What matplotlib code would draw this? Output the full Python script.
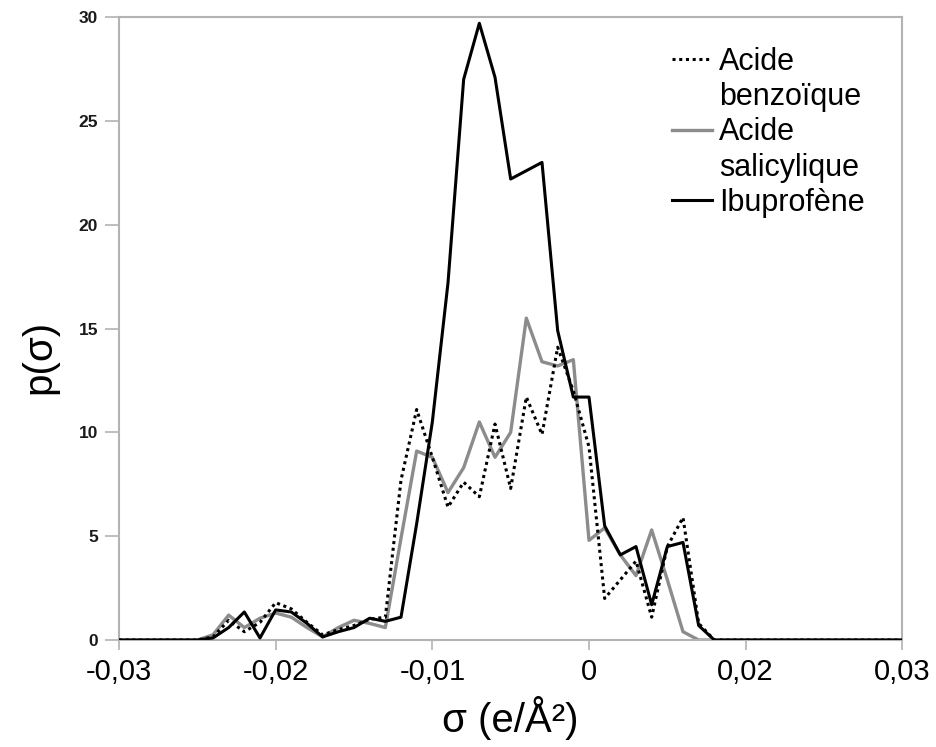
import matplotlib
matplotlib.use("Agg")
import matplotlib.pyplot as plt
from matplotlib.lines import Line2D
import numpy as np

plt.rcParams['font.family'] = ['Liberation Sans', 'DejaVu Sans']

# sigma grid (e/A^2), 51 points
sigma = np.linspace(-0.025, 0.025, 51)

benzoique = [0, 0, 0, 0, 0, 0, 0.15, 0.95, 0.4, 0.85,
             1.8, 1.5, 0.85, 0.25, 0.5, 0.7, 1.0, 1.1, 7.7, 11.1,
             8.8, 6.4, 7.6, 6.9, 10.4, 7.3, 11.7, 9.9, 14.1, 12.0,
             9.3, 2.0, 2.9, 3.8, 1.1, 4.5, 5.9, 0.8, 0, 0,
             0, 0, 0, 0, 0, 0, 0, 0, 0, 0, 0]
salicylique = [0, 0, 0, 0, 0, 0, 0.25, 1.2, 0.6, 1.05,
               1.3, 1.1, 0.6, 0.15, 0.6, 0.95, 0.8, 0.6, 4.9, 9.1,
               8.8, 7.1, 8.3, 10.5, 8.8, 10.0, 15.5, 13.4, 13.2, 13.5,
               4.8, 5.4, 4.1, 3.1, 5.3, 2.9, 0.4, 0, 0, 0,
               0, 0, 0, 0, 0, 0, 0, 0, 0, 0, 0]
ibuprofene = [0, 0, 0, 0, 0, 0, 0.1, 0.6, 1.35, 0.1,
              1.45, 1.35, 0.8, 0.15, 0.4, 0.6, 1.05, 0.9, 1.1, 5.6,
              10.5, 17.2, 27.0, 29.7, 27.1, 22.2, 22.6, 23.0, 14.9, 11.7,
              11.7, 5.5, 4.1, 4.5, 1.7, 4.5, 4.7, 0.7, 0, 0,
              0, 0, 0, 0, 0, 0, 0, 0, 0, 0, 0]

xtick_pos = [-0.025, -0.015, -0.005, 0.005, 0.015, 0.025]
xtick_labels = ['-0,03', '-0,02', '-0,01', '0', '0,02', '0,03']

fig = plt.figure(figsize=(9.37, 7.47), dpi=100)
ax = fig.add_axes([0.127, 0.1432, 0.836, 0.834])

l1, = ax.plot(sigma, benzoique, color='black', linestyle=(0, (1, 1.2)),
              linewidth=2.2, zorder=4)
l2, = ax.plot(sigma, salicylique, color='#8c8c8c', linewidth=2.4, zorder=2)
l3, = ax.plot(sigma, ibuprofene, color='black', linewidth=2.2, zorder=3)

ax.set_xlim(-0.025, 0.025)
ax.set_ylim(0, 30)
ax.set_xticks(xtick_pos)
ax.set_xticklabels(xtick_labels, fontsize=21)
ax.set_yticks(range(0, 31, 5))
ax.tick_params(axis='y', labelsize=12.5, length=10, width=1.2, color='#b3b3b3', pad=5)
ax.tick_params(axis='x', length=7, width=1.2, color='#b3b3b3', pad=6)
for lab in ax.get_yticklabels():
    lab.set_fontweight('bold')
    lab.set_color('#1a1a1a')

for sp in ax.spines.values():
    sp.set_color('#b3b3b3')
    sp.set_linewidth(1.5)

ax.set_xlabel('σ (e/Å²)', fontsize=29, labelpad=7)
ax.set_ylabel('p(σ)', fontsize=29)
ax.yaxis.set_label_coords(-0.078, 0.455)

# legend: handle sits on the first line of each name
blank = Line2D([], [], linestyle='none')
handles = [l1, blank, l2, blank, l3]
labels = ['Acide', 'benzoïque', 'Acide', 'salicylique', 'Ibuprofène']
ax.legend(handles, labels, loc='upper left', bbox_to_anchor=(0.706, 0.952),
          frameon=False, fontsize=22, handlelength=1.3, handletextpad=0.25,
          labelspacing=0.17, borderaxespad=0, borderpad=0)

fig.savefig('out.png', dpi=100)
